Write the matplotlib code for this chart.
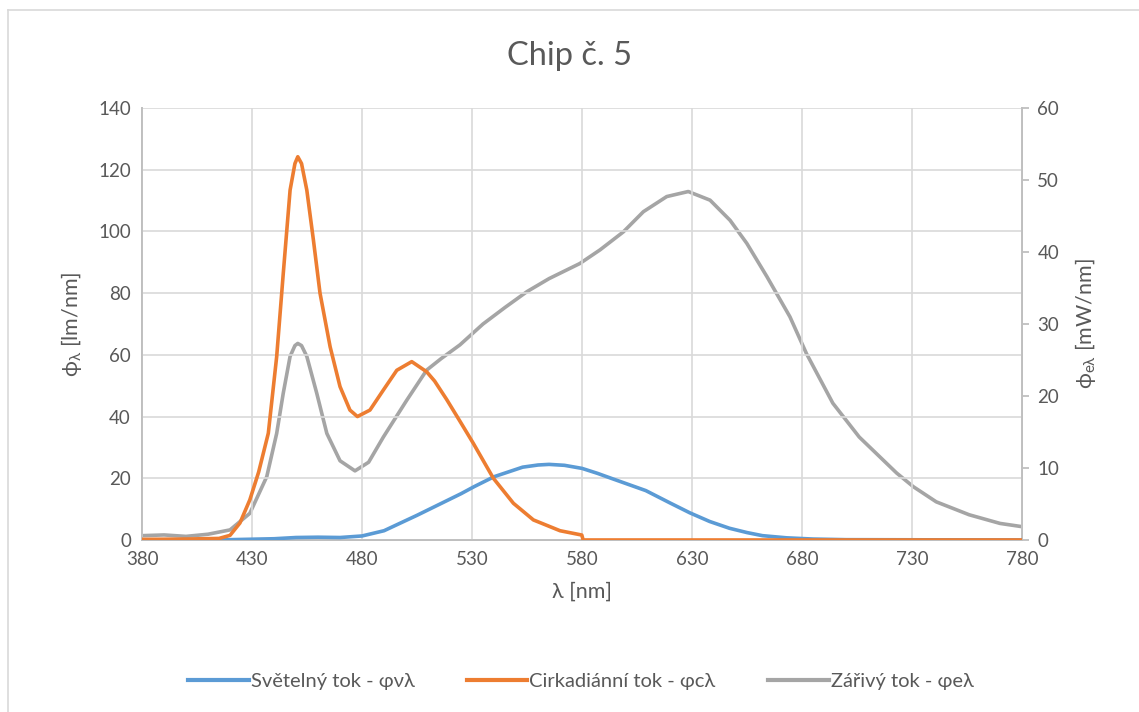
import numpy as np
import matplotlib
matplotlib.use("Agg")
import matplotlib.pyplot as plt
from matplotlib.lines import Line2D

plt.rcParams['font.family'] = ['Lato', 'DejaVu Sans']
plt.rcParams['mathtext.fontset'] = 'custom'
plt.rcParams['mathtext.rm'] = 'Lato'
plt.rcParams['mathtext.it'] = 'Lato'

# --- data ---
# Svetelny tok (left axis, lm/nm)
wl_v = [380, 400, 420, 440, 450, 460, 470, 480, 490, 496, 505, 515, 525, 531, 540,
        553, 560, 565, 572, 580, 587, 594, 609, 620, 629, 638, 647, 655, 662, 673,
        685, 700, 780]
phi_v = [0.0, 0.0, 0.1, 0.4, 0.8, 0.9, 0.8, 1.3, 3.0, 5.0, 8.0, 11.5, 15.0, 17.3, 20.5,
         23.6, 24.3, 24.5, 24.2, 23.2, 21.6, 19.8, 16.0, 12.0, 8.8, 6.0, 3.8, 2.4, 1.4, 0.7,
         0.3, 0.1, 0.0]

# Cirkadianni tok (left axis, lm/nm)
wl_c = [380, 400, 415, 420, 424.5, 429, 433, 437.4, 441.2, 444.2, 447.3, 449.5, 450.8,
        452.5, 454.9, 457.9, 460.9, 465.5, 470, 474.5, 477.9, 483.6, 489.7, 495.8,
        502.6, 509.4, 513, 518.5, 524.5, 530.6, 539.7, 548.8, 557.9, 570, 579.9,
        580.5, 600, 700, 780]
phi_c = [0.2, 0.3, 0.5, 1.5, 5.5, 13, 22, 34.6, 59.4, 86.4, 113.4, 122, 124.2,
         122, 113.4, 97.2, 80, 62.6, 49.7, 42.1, 40, 42.1, 48.6, 55,
         57.8, 54.5, 51.5, 45.5, 38.5, 31.3, 20, 11.9, 6.5, 3.0, 1.6,
         0.0, 0.0, 0.0, 0.0]

# Zarivy tok (right axis, mW/nm)
wl_e = [380, 390, 400, 410, 420, 429, 436.7, 441.2, 444.2, 447.3, 449.5, 450.8, 452.5,
        454.9, 459.4, 464, 470, 476.8, 483, 489.7, 500.3, 509.4, 516, 524.5, 535,
        545, 555, 565, 579, 588.2, 598.8, 607.9, 618.5, 628.3, 638.2, 647.3, 654.9,
        664, 674.5, 682, 694, 706, 723, 730.6, 741, 756, 770, 780]
phi_e = [0.6, 0.7, 0.5, 0.8, 1.4, 3.7, 8.8, 14.8, 20.4, 25.5, 27.0, 27.3, 27.0,
         25.5, 20.4, 14.8, 11.0, 9.6, 10.8, 14.3, 19.4, 23.6, 25.2, 27.1, 30.0,
         32.3, 34.5, 36.3, 38.4, 40.3, 42.8, 45.6, 47.7, 48.4, 47.2, 44.4, 41.2,
         36.6, 31.0, 25.9, 19.0, 14.3, 9.3, 7.4, 5.3, 3.5, 2.3, 1.85]

labels = ['Světelný tok - φνλ', 'Cirkadiánní tok - φcλ', 'Zářivý tok - φeλ']
colors = ['#5B9BD5', '#ED7D31', '#A5A5A5']
text_c = '#595959'

fig = plt.figure(figsize=(11.39, 7.12), dpi=100)
ax = fig.add_axes([0.1247, 0.2416, 0.7726, 0.6067])
ax2 = ax.twinx()

ax2.plot(wl_e, phi_e, color=colors[2], lw=2.6, solid_joinstyle='round')
ax.plot(wl_v, phi_v, color=colors[0], lw=2.6, solid_joinstyle='round', zorder=3)
ax.plot(wl_c, phi_c, color=colors[1], lw=2.6, solid_joinstyle='round', zorder=3)
ax.set_zorder(ax2.get_zorder() + 1)
ax.patch.set_visible(False)

ax.set_xlim(380, 780)
ax.set_ylim(0, 140)
ax2.set_ylim(0, 60)
ax.set_xticks(np.arange(380, 781, 50))
ax.set_yticks(np.arange(0, 141, 20))
ax2.set_yticks(np.arange(0, 61, 10))

ax.grid(True, color='#D9D9D9', lw=1.2)
ax.set_axisbelow(True)
for a in (ax, ax2):
    for s in a.spines.values():
        s.set_color('#BFBFBF')
        s.set_linewidth(1.3)
    a.spines['top'].set_visible(False)
ax.tick_params(axis='both', length=0, labelsize=13.5, colors=text_c, pad=8)
ax2.tick_params(axis='y', length=5, width=1.3, color='#BFBFBF', labelsize=13.5,
                labelcolor=text_c, pad=6)

ax.set_xlabel('λ [nm]', fontsize=15.5, color=text_c, labelpad=10)
ax.set_ylabel(r'ϕ$_\lambda$ [lm/nm]', fontsize=15.5, color=text_c, labelpad=10)
ax2.set_ylabel(r'ϕ$_{e\lambda}$ [mW/nm]', fontsize=15.5, color=text_c, labelpad=10)
fig.text(0.5, 0.922, 'Chip č. 5', ha='center', va='center', fontsize=23.5, color=text_c)

handles = [Line2D([], [], color=c, lw=3) for c in colors]
fig.legend(handles, labels, loc='center', bbox_to_anchor=(0.51, 0.043), ncol=3,
           frameon=False, fontsize=14.5, labelcolor=text_c, handlelength=3.0,
           handletextpad=0.1, columnspacing=2.6)

# chart-area border
fig.add_artist(Line2D([0.007, 0.007], [0, 0.986], color='#D9D9D9', lw=1.2))
fig.add_artist(Line2D([0.007, 1.0], [0.986, 0.986], color='#D9D9D9', lw=1.2))

fig.savefig('out.png', dpi=100)
